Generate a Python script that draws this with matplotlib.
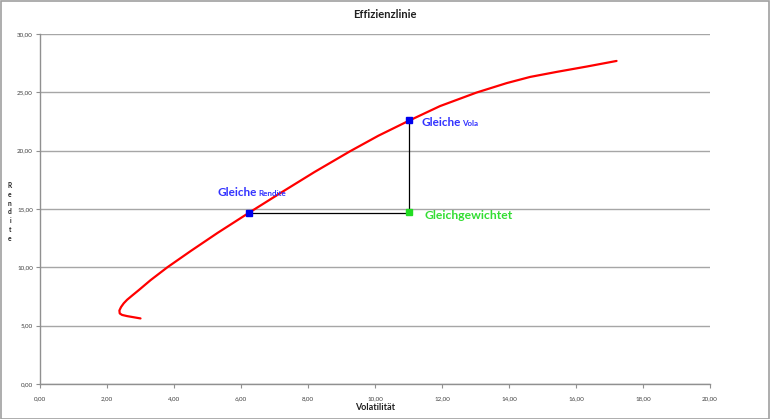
import matplotlib
matplotlib.use("Agg")
import matplotlib.pyplot as plt
from matplotlib.patches import Rectangle

plt.rcParams['font.family'] = ['Lato', 'DejaVu Sans']

# Efficient frontier (Volatilität, Rendite)
vola = [3.00, 2.80, 2.60, 2.45, 2.38, 2.37, 2.42, 2.50, 2.60, 2.75, 2.95, 3.30, 3.80,
        4.50, 5.30, 6.25, 7.20, 8.20, 9.25, 10.10, 11.00, 11.94, 13.03, 13.93,
        14.63, 15.42, 16.32, 17.21]
rendite = [5.62, 5.72, 5.82, 5.92, 6.05, 6.30, 6.60, 6.92, 7.22, 7.58, 8.05, 8.90, 10.00,
           11.40, 12.95, 14.70, 16.41, 18.18, 19.94, 21.28, 22.55, 23.82, 24.98, 25.79,
           26.32, 26.75, 27.21, 27.69]

# Special portfolios
gleiche_rendite = (6.25, 14.70)
gleiche_vola = (11.00, 22.60)
gleichgewichtet = (11.00, 14.75)

xticks = [0, 2, 4, 6, 8, 10, 12, 14, 16, 18, 20]
yticks = [0, 5, 10, 15, 20, 25, 30]

W, H = 770, 419
fig = plt.figure(figsize=(W / 100, H / 100), dpi=100)
fig.patches.append(Rectangle((0.5 / W, 0.5 / H), 1 - 2 / W, 1 - 2 / H, transform=fig.transFigure,
                             fill=False, edgecolor='#a0a0a0', lw=1.2))
ax = fig.add_axes([40 / W, (H - 384) / H, 670 / W, 350 / H])

ax.set_xlim(0, 20)
ax.set_ylim(0, 30)
ax.set_xticks(xticks)
ax.set_yticks(yticks)
fmt = lambda v: f"{v:.2f}".replace('.', ',')
ax.set_xticklabels([fmt(v) for v in xticks], fontsize=4.5, color='#404040')
ax.set_yticklabels([fmt(v) for v in yticks], fontsize=4.5, color='#404040')
ax.tick_params(axis='both', length=3, width=0.8, color='#909090', pad=2)
ax.tick_params(axis='x', pad=6)
for s in ['top', 'right']:
    ax.spines[s].set_visible(False)
for s in ['left', 'bottom']:
    ax.spines[s].set_color('#909090')
    ax.spines[s].set_linewidth(1.0)
ax.yaxis.grid(True, color='#a6a6a6', lw=1.0)
ax.set_axisbelow(True)

ax.plot(vola, rendite, color='#ff0000', lw=1.6, zorder=3, solid_capstyle='round',
        solid_joinstyle='round')

# connecting lines
ax.plot([gleiche_rendite[0], gleichgewichtet[0]], [gleiche_rendite[1], gleiche_rendite[1]],
        color='black', lw=0.9, zorder=2)
ax.plot([gleichgewichtet[0], gleichgewichtet[0]], [gleiche_rendite[1], gleiche_vola[1]],
        color='black', lw=0.9, zorder=2)

ax.plot(*gleiche_rendite, 's', color='#0000ee', ms=5, zorder=4)
ax.plot(*gleiche_vola, 's', color='#0000ee', ms=5, zorder=4)
ax.plot(*gleichgewichtet, 's', color='#22dd22', ms=4.5, zorder=4)

blue = '#3333ff'
green = '#33dd33'

def two_part(xy, offset, big, small, color):
    t1 = ax.annotate(big, xy=xy, xytext=offset, textcoords='offset points',
                     fontsize=8.5, fontweight='bold', color=color, va='baseline', ha='left')
    fig.canvas.draw()
    bb = t1.get_window_extent()
    w_pt = bb.width * 72 / fig.dpi
    ax.annotate(small, xy=xy, xytext=(offset[0] + w_pt + 1.0, offset[1]), textcoords='offset points',
                fontsize=5.8, fontweight='bold', color=color, va='baseline', ha='left')

two_part(gleiche_rendite, (-23, 12), 'Gleiche', 'Rendite', blue)
two_part(gleiche_vola, (9.4, -4.3), 'Gleiche', 'Vola', blue)
ax.annotate('Gleichgewichtet', xy=gleichgewichtet, xytext=(11.5, -5), textcoords='offset points',
            fontsize=8.7, fontweight='bold', color=green, va='baseline', ha='left')

fig.text(385 / W, 1 - 14 / H, 'Effizienzlinie', fontsize=8, fontweight='bold',
         ha='center', va='center', color='#202020')
fig.text(375 / W, 1 - 407 / H, 'Volatilität', fontsize=6.5, fontweight='bold',
         ha='center', va='center', color='#202020')
fig.text(10 / W, 1 - 212 / H, '\n'.join('Rendite'), fontsize=4.8, fontweight='bold',
         ha='center', va='center', color='#202020', linespacing=1.3)

fig.savefig('out.png', dpi=100)
